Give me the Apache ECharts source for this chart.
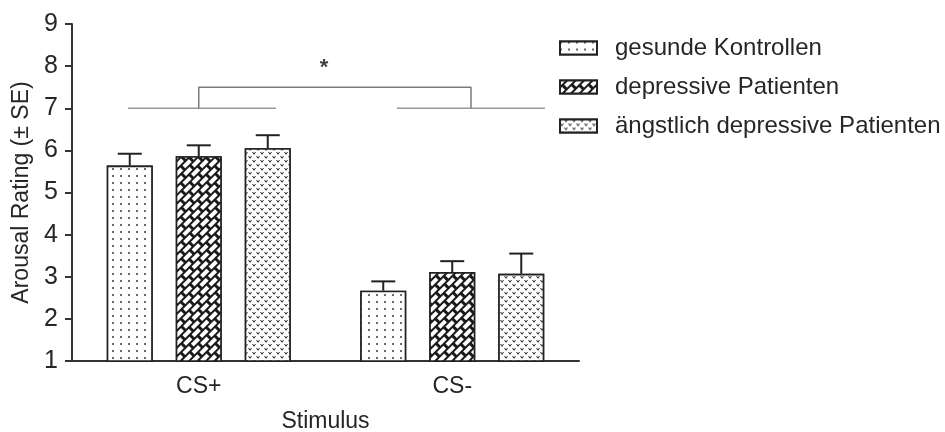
<!DOCTYPE html>
<html>
<head>
<meta charset="utf-8">
<script src="https://cdn.jsdelivr.net/npm/echarts@6/dist/echarts.min.js"></script>
<style>
html,body{margin:0;padding:0;background:#fff;}
#chart{width:945px;height:432px;}
</style>
</head>
<body>
<div id="chart"></div>
<script>
// ---- data ----
const categories = ['CS+', 'CS-'];
const seriesNames = ['gesunde Kontrollen', 'depressive Patienten', 'ängstlich depressive Patienten'];
const healthyMean = [5.64, 2.67];
const healthyErrTop = [5.92, 2.89];
const depressedMean = [5.86, 3.11];
const depressedErrTop = [6.12, 3.37];
const anxiousMean = [6.05, 3.07];
const anxiousErrTop = [6.36, 3.55];
// significance bracket, in a 0..2 helper x-scale (categories centred at 0.5 and 1.5)
const groupLineLeft = [[0.221, 7], [0.805, 7]];
const groupLineRight = [[1.282, 7], [1.866, 7]];
const bracketLine = [[0.5, 7], [0.5, 7.5], [1.574, 7.5], [1.574, 7]];
const starPoint = [[0.994, 7.96]];

// ---- styles ----
const FONT = 'Liberation Sans, Arial, sans-serif';
const TXT = '#262626';
const BAR_W = 46;
const BAR_GAP = '50%';

const decals = [
  { symbol: 'circle', symbolSize: 1, dashArrayX: [1.7, 5.6], dashArrayY: [1.7, 5.0],
    color: '#3a3a3a', backgroundColor: '#ffffff' },
  { symbol: 'rect', symbolSize: 1, dashArrayX: [[9, 3], [4, 3, 5, 0]], dashArrayY: [3.2, 1.9],
    rotation: -Math.PI / 4, color: '#ffffff', backgroundColor: '#1a1a1a' },
  { symbol: 'path://M0,0 L2.5,0 L5,3 L7.5,0 L10,0 L5,7 Z', symbolSize: 1,
    dashArrayX: [[3.6, 3.4], [0, 3.5, 3.6, -0.1]], dashArrayY: [3, 0.4],
    color: '#333', backgroundColor: '#ffffff' }
];

const means = [healthyMean, depressedMean, anxiousMean];
const tops = [healthyErrTop, depressedErrTop, anxiousErrTop];

const barSeries = seriesNames.map((name, k) => ({
  name: name,
  type: 'bar',
  barWidth: BAR_W,
  barGap: BAR_GAP,
  data: means[k],
  itemStyle: { color: '#ffffff', borderColor: '#222', borderWidth: 1.6, decal: decals[k] },
  emphasis: { disabled: true },
  z: 2
}));

const errSeries = seriesNames.map((name, k) => ({
  name: 'err' + k,
  type: 'custom',
  z: 3,
  data: categories.map((c, i) => [i, means[k][i], tops[k][i]]),
  renderItem: function (params, api) {
    const layout = api.barLayout({ count: 3, barWidth: BAR_W, barGap: BAR_GAP });
    const p0 = api.coord([api.value(0), api.value(1)]);
    const p1 = api.coord([api.value(0), api.value(2)]);
    const x = p0[0] + layout[k].offsetCenter;
    const st = { stroke: '#222', lineWidth: 2 };
    return {
      type: 'group',
      children: [
        { type: 'line', shape: { x1: x, y1: p0[1], x2: x, y2: p1[1] }, style: st },
        { type: 'line', shape: { x1: x - 12, y1: p1[1], x2: x + 12, y2: p1[1] }, style: st }
      ]
    };
  }
}));

const lineBase = { type: 'line', xAxisIndex: 1, symbol: 'none', silent: true, animation: false };

const chart = echarts.init(document.getElementById('chart'), null, { renderer: 'canvas' });
chart.setOption({
  backgroundColor: '#ffffff',
  animation: false,
  grid: { left: 72, top: 24, width: 507, bottom: 71, containLabel: false, outerBoundsMode: 'none' },
  legend: {
    orient: 'vertical',
    left: 554,
    top: 31,
    itemWidth: 37,
    itemHeight: 13,
    itemGap: 15,
    icon: 'rect',
    selectedMode: false,
    data: seriesNames,
    textStyle: { fontFamily: FONT, fontSize: 24, color: TXT, padding: [0, 0, 0, 13] }
  },
  xAxis: [
    {
      type: 'category',
      data: categories,
      name: 'Stimulus',
      nameLocation: 'middle',
      nameGap: 49,
      nameTextStyle: { fontFamily: FONT, fontSize: 23, color: TXT },
      axisLine: { lineStyle: { color: '#333', width: 2 } },
      axisTick: { alignWithLabel: true, length: 7, lineStyle: { color: '#333', width: 2 } },
      axisLabel: { fontFamily: FONT, fontSize: 23, color: TXT, margin: 14 }
    },
    { type: 'value', min: 0, max: 2, show: false }
  ],
  yAxis: {
    type: 'value',
    min: 1,
    max: 9,
    interval: 1,
    name: 'Arousal Rating (± SE)',
    nameLocation: 'middle',
    nameGap: 38,
    nameTextStyle: { fontFamily: FONT, fontSize: 23, color: TXT },
    axisLine: { show: true, lineStyle: { color: '#333', width: 2 } },
    axisTick: { show: true, length: 7, lineStyle: { color: '#333', width: 2 } },
    axisLabel: { fontFamily: FONT, fontSize: 25, color: TXT, margin: 14 },
    splitLine: { show: false }
  },
  series: [
    ...barSeries,
    ...errSeries,
    Object.assign({}, lineBase, { name: 'gl', data: groupLineLeft, lineStyle: { color: '#9a9a9a', width: 1.5 } }),
    Object.assign({}, lineBase, { name: 'gr', data: groupLineRight, lineStyle: { color: '#9a9a9a', width: 1.5 } }),
    Object.assign({}, lineBase, { name: 'br', data: bracketLine, lineStyle: { color: '#7a7a7a', width: 1.5 } }),
    {
      name: 'star', type: 'scatter', xAxisIndex: 1, symbolSize: 0, silent: true,
      data: starPoint,
      label: { show: true, position: 'inside', formatter: '*', fontFamily: FONT, fontSize: 22, fontWeight: 'bold', color: '#111' }
    }
  ]
});
</script>
</body>
</html>
